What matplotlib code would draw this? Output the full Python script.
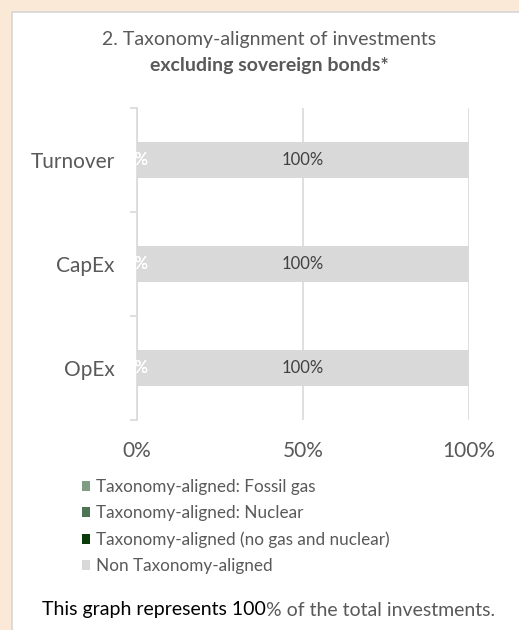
import matplotlib
matplotlib.use("Agg")
import matplotlib.pyplot as plt
from matplotlib.patches import Rectangle
from matplotlib.ticker import FixedLocator

plt.rcParams['font.family'] = ['Lato', 'DejaVu Sans']

categories = ["Turnover", "CapEx", "OpEx"]
series_names = ["Taxonomy-aligned: Fossil gas", "Taxonomy-aligned: Nuclear",
                "Taxonomy-aligned (no gas and nuclear)", "Non Taxonomy-aligned"]
fossil_gas = [0, 0, 0]
nuclear = [0, 0, 0]
aligned_other = [0, 0, 0]
non_aligned = [100, 100, 100]
x_ticks = [0, 50, 100]
x_tick_labels = ["0%", "50%", "100%"]

colors = ["#7F9C84", "#4F7355", "#0B3A0B", "#D9D9D9"]
label_colors = ["white", "white", "white", "#404040"]
TXT = "#595959"

W, H = 519, 630
fig = plt.figure(figsize=(W / 100, H / 100), dpi=100)
fig.patch.set_facecolor("#FBE9D8")
# white panel
fig.patches.append(Rectangle((12 / W, -0.1), 1.2, (H - 12) / H + 0.1, transform=fig.transFigure,
                             facecolor="white", edgecolor="#D6D6D6", linewidth=1.2, zorder=-5))

ax = fig.add_axes([137 / W, 1 - 420 / H, (469 - 137) / W, (420 - 108) / H])
ax.set_facecolor("none")
ax.set_zorder(2)

ypos = list(range(len(categories)))
series = [fossil_gas, nuclear, aligned_other, non_aligned]
left = [0] * len(categories)
for vals, c, lc, name in zip(series, colors, label_colors, series_names):
    bars = ax.barh(ypos, vals, left=left, height=0.34, color=c, label=name, zorder=2)
    labels = [f"{v:g}%" for v in vals]
    ax.bar_label(bars, labels=labels, label_type="center", color=lc, fontsize=12, zorder=3)
    left = [l + v for l, v in zip(left, vals)]

ax.set_xlim(0, 100)
ax.set_ylim(len(categories) - 0.5, -0.5)
ax.set_xticks(x_ticks)
ax.set_xticklabels(x_tick_labels, color=TXT, fontsize=15)
ax.tick_params(axis="x", length=0, pad=15)
ax.set_yticks(ypos)
ax.set_yticklabels(categories, color=TXT, fontsize=15)
ax.tick_params(axis="y", which="major", length=0, pad=16)
ax.yaxis.set_minor_locator(FixedLocator([-0.5, 0.5, 1.5, 2.5]))
ax.tick_params(axis="y", which="minor", length=5, color="#D9D9D9", width=1.2)
ax.grid(axis="x", color="#D9D9D9", linewidth=1.2, zorder=1)
for s in ["top", "right", "bottom"]:
    ax.spines[s].set_visible(False)
ax.spines["left"].set_color("#D9D9D9")
ax.spines["left"].set_linewidth(1.2)

fig.text(269 / W, 1 - 39 / H, "2. Taxonomy-alignment of investments", ha="center", va="center",
         color=TXT, fontsize=14)
fig.text(269 / W, 1 - 65 / H, "excluding sovereign bonds*", ha="center", va="center",
         color=TXT, fontsize=14, fontweight="bold")

handles, labs = ax.get_legend_handles_labels()
leg = fig.legend(handles, labs, loc="upper left", bbox_to_anchor=(75 / W, 1 - 472 / H),
                 frameon=False, fontsize=12.3, handlelength=0.5, handleheight=0.5,
                 handletextpad=0.35, labelspacing=0.6, labelcolor=TXT, borderaxespad=0)

t1 = fig.text(42 / W, 1 - 610 / H, "This graph represents 100", ha="left", va="center",
              color="black", fontsize=14)
fig.canvas.draw()
bb = t1.get_window_extent()
fig.text(bb.x1 / W, 1 - 610 / H, "% of the total investments.", ha="left", va="center",
         color=TXT, fontsize=14)

fig.savefig("out.png", dpi=100, facecolor=fig.get_facecolor())
